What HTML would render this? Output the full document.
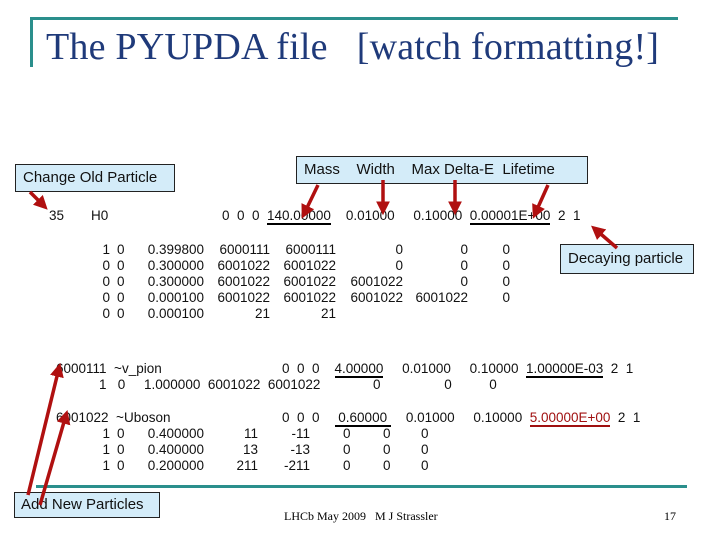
<!DOCTYPE html>
<html><head><style>
body{margin:0;width:720px;height:540px;background:#fff;position:relative;overflow:hidden;font-family:"Liberation Sans",sans-serif;}
.t{position:absolute;font-size:13.5px;color:#111;white-space:pre;line-height:16px}
.r{text-align:right}
.box{position:absolute;background:#d4ecf9;border:1px solid #222;font-size:15px;color:#111;box-sizing:border-box;white-space:pre}
u{text-decoration:none;border-bottom:2px solid #000}
</style></head><body>
<div style="position:absolute;left:30px;top:17px;width:648px;height:3px;background:#2a8f8c"></div>
<div style="position:absolute;left:30px;top:17px;width:3px;height:50px;background:#2a8f8c"></div>
<div style="position:absolute;left:46px;top:25px;font-family:'Liberation Serif',serif;font-size:38px;color:#1f3a7a;white-space:pre;letter-spacing:0.2px">The PYUPDA file   [watch formatting!]</div>
<div style="position:absolute;left:36px;top:485px;width:651px;height:3px;background:#2a8f8c"></div>

<div class="box" style="left:15px;top:164px;width:160px;height:28px;padding:4px 0 0 7px">Change Old Particle</div>
<div class="box" style="left:296px;top:156px;width:292px;height:28px;padding:4px 0 0 7px">Mass    Width    Max Delta-E  Lifetime</div>
<div class="box" style="left:560px;top:244px;width:134px;height:30px;padding:5px 0 0 7px">Decaying particle</div>
<div class="box" style="left:14px;top:492px;width:146px;height:26px;padding:3px 0 0 6px">Add New Particles</div>

<div class="t" style="left:49px;top:208px">35</div>
<div class="t" style="left:91px;top:208px">H0</div>
<div class="t" style="left:222px;top:208px">0  0  0  <u>140.00000</u>    0.01000     0.10000  <u>0.00001E+00</u>  2  1</div>

<div class="t r" style="left:80px;top:242px;width:30px">1<br>0<br>0<br>0<br>0</div>
<div class="t" style="left:117px;top:242px">0<br>0<br>0<br>0<br>0</div>
<div class="t r" style="left:130px;top:242px;width:74px">0.399800<br>0.300000<br>0.300000<br>0.000100<br>0.000100</div>
<div class="t r" style="left:200px;top:242px;width:70px">6000111<br>6001022<br>6001022<br>6001022<br>21</div>
<div class="t r" style="left:266px;top:242px;width:70px">6000111<br>6001022<br>6001022<br>6001022<br>21</div>
<div class="t r" style="left:330px;top:242px;width:73px">0<br>0<br>6001022<br>6001022</div>
<div class="t r" style="left:400px;top:242px;width:68px">0<br>0<br>0<br>6001022</div>
<div class="t r" style="left:480px;top:242px;width:30px">0<br>0<br>0<br>0</div>

<div class="t" style="left:56px;top:361px">6000111  ~v_pion</div>
<div class="t" style="left:282px;top:361px">0  0  0    <u>4.00000</u>     0.01000     0.10000  <u>1.00000E-03</u>  2  1</div>
<div class="t" style="left:99px;top:377px">1   0     1.000000  6001022  6001022              0                 0          0</div>

<div class="t" style="left:56px;top:410px">6001022  ~Uboson</div>
<div class="t" style="left:282px;top:410px">0  0  0    <u> 0.60000 </u>    0.01000     0.10000  <u style="color:#a01010;border-color:#a01010">5.00000E+00</u>  2  1</div>
<div class="t r" style="left:80px;top:426px;width:30px">1<br>1<br>1</div>
<div class="t" style="left:117px;top:426px">0<br>0<br>0</div>
<div class="t r" style="left:130px;top:426px;width:74px">0.400000<br>0.400000<br>0.200000</div>
<div class="t r" style="left:200px;top:426px;width:58px">11<br>13<br>211</div>
<div class="t r" style="left:270px;top:426px;width:40px">-11<br>-13<br>-211</div>
<div class="t" style="left:343px;top:426px">0<br>0<br>0</div>
<div class="t" style="left:383px;top:426px">0<br>0<br>0</div>
<div class="t" style="left:421px;top:426px">0<br>0<br>0</div>

<div style="position:absolute;left:284px;top:509px;font-family:'Liberation Serif',serif;font-size:12px;white-space:pre">LHCb May 2009   M J Strassler</div>
<div style="position:absolute;left:664px;top:509px;font-family:'Liberation Serif',serif;font-size:12px">17</div>

<svg width="720" height="540" style="position:absolute;left:0;top:0" viewBox="0 0 720 540">
<defs><marker id="a" markerWidth="4" markerHeight="4" refX="2.5" refY="2" orient="auto" markerUnits="strokeWidth"><path d="M0,0 L4,2 L0,4 z" fill="#b01010"/></marker></defs>
<g stroke="#b01010" stroke-width="3.5" fill="none" marker-end="url(#a)">
<line x1="30" y1="192" x2="44" y2="206"/>
<line x1="318" y1="185" x2="304" y2="214"/>
<line x1="383" y1="180" x2="383" y2="210"/>
<line x1="455" y1="180" x2="455" y2="210"/>
<line x1="548" y1="185" x2="535" y2="214"/>
<line x1="617" y1="248" x2="595" y2="229"/>
<line x1="28" y1="495" x2="59" y2="368"/>
<line x1="40" y1="505" x2="66" y2="415"/>
</g>
</svg>
</body></html>
